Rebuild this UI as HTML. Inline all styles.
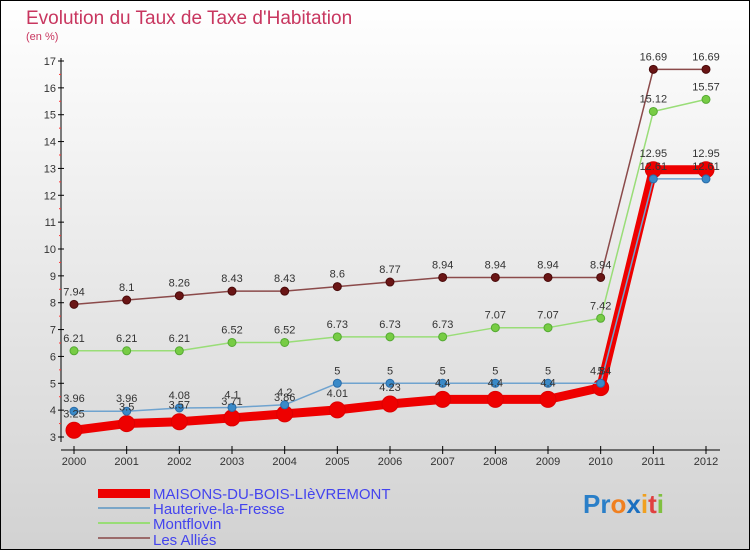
<!DOCTYPE html>
<html><head><meta charset="utf-8"><style>
body{margin:0}
#wrap{position:relative;width:750px;height:550px;overflow:hidden;font-family:"Liberation Sans",sans-serif}
svg text{font-family:"Liberation Sans",sans-serif}
</style></head><body>
<div id="wrap">
<svg id="chart" width="750" height="550">
<defs><linearGradient id="bg" x1="0" y1="0" x2="0" y2="1"><stop offset="0" stop-color="#ffffff"/><stop offset="1" stop-color="#d2d2d2"/></linearGradient></defs>
<rect x="0.5" y="0.5" width="749" height="549" fill="url(#bg)" stroke="#000"/>
<text x="26" y="24" font-size="19" fill="#c8365f">Evolution du Taux de Taxe d'Habitation</text>
<text x="26" y="40" font-size="11" fill="#c8365f">(en %)</text>
<g id="axes"></g><g id="series"></g><g id="labels"></g>
<g>
<rect x="98" y="489" width="52" height="9" fill="#ee0000"/>
<text x="153" y="499" font-size="15" fill="#4444ee">MAISONS-DU-BOIS-LIèVREMONT</text>
<line x1="98" y1="508" x2="150" y2="508" stroke="#7aa6c8" stroke-width="2"/>
<text x="153" y="514" font-size="15" fill="#4444ee">Hauterive-la-Fresse</text>
<line x1="98" y1="523" x2="150" y2="523" stroke="#99dd77" stroke-width="2"/>
<text x="153" y="529" font-size="15" fill="#4444ee">Montflovin</text>
<line x1="98" y1="538" x2="150" y2="538" stroke="#9b6b6b" stroke-width="2"/>
<text x="153" y="545" font-size="15" fill="#4444ee">Les Alliés</text>
</g>
<text x="583" y="513" font-size="26" font-weight="bold"><tspan fill="#2a7fc8">Pr</tspan><tspan fill="#f08020">o</tspan><tspan fill="#1a6fc0">x</tspan><tspan fill="#f0a020">i</tspan><tspan fill="#e04040">t</tspan><tspan fill="#80c040">i</tspan></text>
</svg>
</div>
<script>
const years=[2000,2001,2002,2003,2004,2005,2006,2007,2008,2009,2010,2011,2012];
const maisons=[3.25,3.5,3.57,3.71,3.86,4.01,4.23,4.4,4.4,4.4,4.84,12.95,12.95];
const hauterive=[3.96,3.96,4.08,4.1,4.2,5,5,5,5,5,5,12.61,12.61];
const montflovin=[6.21,6.21,6.21,6.52,6.52,6.73,6.73,6.73,7.07,7.07,7.42,15.12,15.57];
const allies=[7.94,8.1,8.26,8.43,8.43,8.6,8.77,8.94,8.94,8.94,8.94,16.69,16.69];
const yTicks=[3,4,5,6,7,8,9,10,11,12,13,14,15,16,17];
const NS="http://www.w3.org/2000/svg";
const X=y=>74+(y-2000)*(706-74)/12;
const Y=v=>437-(v-3)*(437-61)/14;
function mk(t,a,p){const e=document.createElementNS(NS,t);for(const k in a)e.setAttribute(k,a[k]);p.appendChild(e);return e;}
const ax=document.getElementById('axes');
const yl=mk('line',{x1:61,y1:58,x2:61,y2:442,stroke:'#000'},ax);


const xl=mk('line',{x1:61,y1:450,x2:720,y2:450,stroke:'#000'},ax);


yTicks.forEach(v=>{
 mk('line',{x1:58,y1:Y(v),x2:64,y2:Y(v),stroke:'#000'},ax);
 if(v<17) mk('line',{x1:59,y1:Y(v+0.5),x2:61,y2:Y(v+0.5),stroke:'#f33'},ax);
 const t=mk('text',{x:56,y:Y(v)+4,'font-size':11,'text-anchor':'end',fill:'#333'},ax);
 t.textContent=v;
 
 
});
years.forEach(y=>{
 mk('line',{x1:X(y),y1:446,x2:X(y),y2:454,stroke:'#000'},ax);
 const t=mk('text',{x:X(y),y:465,'font-size':11,'text-anchor':'middle',fill:'#333'},ax);
 t.textContent=y;
 
 
});
const S=document.getElementById('series'),L=document.getElementById('labels');
function draw(vals,name,line,w,dot,r,stroke){
 const g=mk('g',{},S);
 
 
 const p=mk('polyline',{points:vals.map((v,i)=>X(years[i])+','+Y(v)).join(' '),fill:'none',stroke:line,'stroke-width':w,'stroke-linejoin':'round'},g);
 
 
 vals.forEach((v,i)=>{
  const c=mk('circle',{cx:X(years[i]),cy:Y(v),r:r,fill:dot,stroke:stroke,'stroke-width':1},g);
  
  
  const t=mk('text',{x:X(years[i]),y:Y(v)-(r+5),'font-size':11,'text-anchor':'middle',fill:'#333'},L);
  t.textContent=v;
  
  
 });
}
draw(allies,'les-allies','#8b4a4a',1.5,'#6a1515',4,'#4a0a0a');
draw(montflovin,'montflovin','#99dd77',1.5,'#77cc44',4,'#55aa33');
draw(maisons,'maisons','#ee0000',9,'#ee0000',8,'#dd0000');
draw(hauterive,'hauterive','#6fa3cf',1.5,'#3a8ac8',4,'#2a6ca8');
</script>
</body></html>
